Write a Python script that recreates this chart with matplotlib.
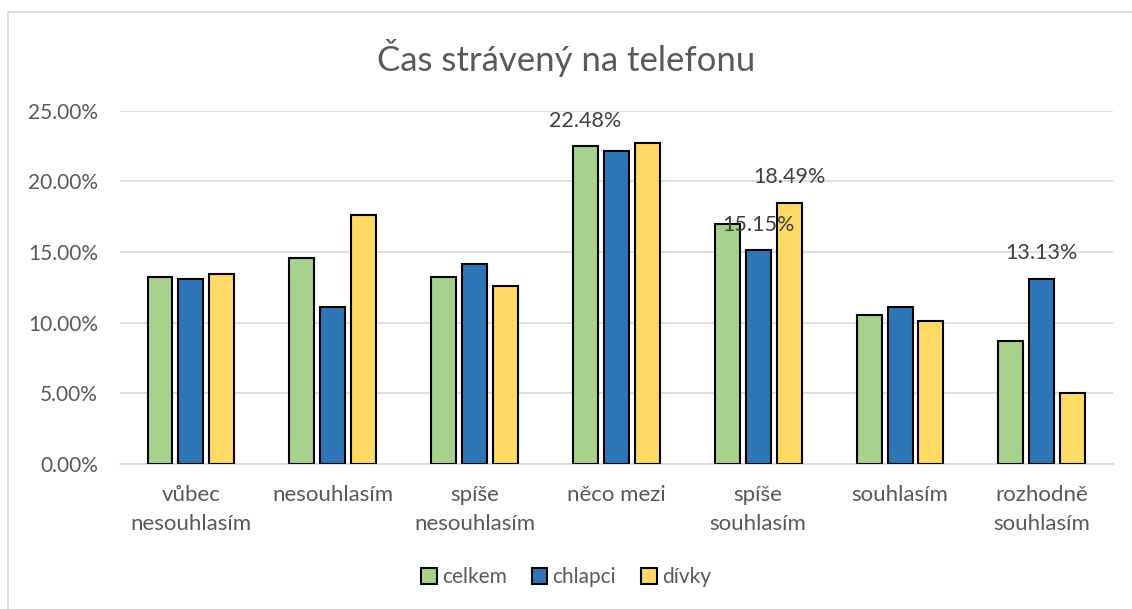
import matplotlib.pyplot as plt
import numpy as np
from matplotlib.patches import Rectangle

plt.rcParams['font.family'] = ['Lato', 'DejaVu Sans']

# categories and series (values in %)
categories = ['vůbec\nnesouhlasím', 'nesouhlasím', 'spíše\nnesouhlasím', 'něco mezi',
              'spíše\nsouhlasím', 'souhlasím', 'rozhodně\nsouhlasím']
celkem = [13.25, 14.60, 13.25, 22.48, 16.96, 10.52, 8.70]
chlapci = [13.09, 11.11, 14.15, 22.19, 15.15, 11.11, 13.13]
divky = [13.42, 17.62, 12.57, 22.69, 18.49, 10.09, 5.02]
series_names = ['celkem', 'chlapci', 'dívky']
colors = ['#a9d18e', '#2e75b6', '#ffd966']

# which bars carry a data label: (series index, category index)
labelled = [(0, 3), (1, 4), (2, 4), (1, 6)]

fig = plt.figure(figsize=(11.32, 6.09), dpi=100)
ax = fig.add_axes([0.106, 0.238, 0.877, 0.580])

x = np.arange(len(categories))
w = 0.176
step = 0.218
all_series = [celkem, chlapci, divky]
for i, (vals, name, c) in enumerate(zip(all_series, series_names, colors)):
    ax.bar(x + (i - 1) * step, vals, width=w, color=c, edgecolor='black',
           linewidth=1.5, label=name, zorder=3)

for si, ci in labelled:
    v = all_series[si][ci]
    ax.text(x[ci] + (si - 1) * step, v + 1.8, f'{v:.2f}%', ha='center', va='center',
            fontsize=15.5, color='#404040', zorder=4)

ax.set_xlim(-0.5, len(categories) - 0.5)
ax.set_ylim(0, 25)
ax.set_yticks(np.arange(0, 25.1, 5))
ax.set_yticklabels([f'{t:.2f}%' for t in np.arange(0, 25.1, 5)])
ax.set_xticks(x)
ax.set_xticklabels(categories, linespacing=1.55)
ax.tick_params(axis='both', length=0, labelsize=15, colors='#595959')
ax.tick_params(axis='x', labelsize=16, pad=15)
ax.tick_params(axis='y', pad=16)
ax.grid(axis='y', color='#d9d9d9', linewidth=1.2, zorder=0)
for s in ['top', 'right', 'left']:
    ax.spines[s].set_visible(False)
ax.spines['bottom'].set_color('#d9d9d9')
ax.spines['bottom'].set_linewidth(1.2)

fig.text(0.5, 0.905, 'Čas strávený na telefonu', ha='center', va='center',
         fontsize=25, color='#595959')

leg = fig.legend(loc='center', bbox_to_anchor=(0.5, 0.052), ncol=3, frameon=False,
                 fontsize=15, handlelength=0.75, handleheight=0.75, handletextpad=0.25,
                 columnspacing=1.2)
for t in leg.get_texts():
    t.set_color('#595959')

# chart area border
fig.patches.append(Rectangle((8 / 1132, -0.1), 1.2, 1 - 12 / 609 + 0.1,
                             transform=fig.transFigure, fill=False,
                             edgecolor='#d9d9d9', linewidth=1.2))

fig.savefig('out.png', dpi=100)
